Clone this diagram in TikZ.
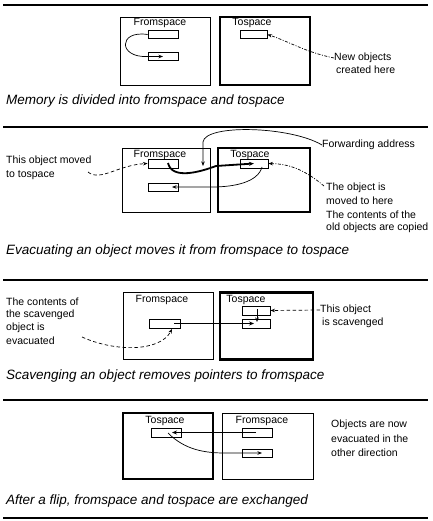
\documentclass[tikz,border=0pt]{standalone}
\usepackage{fontspec}
\setmainfont{Liberation Sans}
\usetikzlibrary{arrows.meta}
\tikzset{
  lbl/.style={font=\fontsize{10.5}{12}\selectfont, inner sep=0pt},
  lblw/.style={lbl, anchor=west},
  capt/.style={font=\fontsize{13.5}{16}\selectfont\itshape, inner sep=0pt, anchor=west},
  obj/.style={draw, line width=0.9pt, minimum width=30pt, minimum height=8pt, inner sep=0pt},
  thinbox/.style={draw, line width=0.9pt, inner sep=0pt},
  thickbox/.style={draw, line width=2.2pt, inner sep=0pt},
  ptr/.style={line width=0.7pt, -{Stealth[length=4.5pt,width=3.5pt]}},
  bptr/.style={line width=1.8pt, -{Stealth[length=5pt,width=4pt]}},
  dptr/.style={line width=0.7pt, dash pattern=on 3.5pt off 2.5pt, -{Stealth[length=4.5pt,width=3.5pt]}},
  ddptr/.style={line width=0.7pt, dash pattern=on 3pt off 1.5pt on 1pt off 1.5pt, -{Stealth[length=4.5pt,width=3.5pt]}},
  rule/.style={line width=#1},
}
\begin{document}
\begin{tikzpicture}[x=1pt,y=-1pt]
\useasboundingbox (0,0) rectangle (432,521);
% rules
\coordinate (r1a) at (3,5);   \coordinate (r1b) at (428,5);
\coordinate (r2a) at (3,127); \coordinate (r2b) at (428,127);
\coordinate (r3a) at (3,280); \coordinate (r3b) at (428,280);
\coordinate (r4a) at (3,400); \coordinate (r4b) at (428,400);
\coordinate (r5a) at (3,518); \coordinate (r5b) at (428,518);
\draw[rule=1.3pt] (r1a) -- (r1b);
\draw[rule=2.6pt] (r2a) -- (r2b);
\draw[rule=2.2pt] (r3a) -- (r3b);
\draw[rule=2.2pt] (r4a) -- (r4b);
\draw[rule=2.6pt] (r5a) -- (r5b);

% ---------- panel 1 ----------
\node[thinbox, minimum width=90pt, minimum height=68pt] (fs1) at (165,51) {};
\node[thickbox, minimum width=90pt, minimum height=68pt] (ts1) at (265,51) {};
\node[lbl] (fs1l) at (160,23) {Fromspace};
\node[lbl] (ts1l) at (252,23) {Tospace};
\node[obj] (a1) at (163,34.5) {};
\node[obj] (b1) at (163,56.5) {};
\node[obj, minimum width=27pt] (t1) at (253.5,34.5) {};
\draw[ptr] (a1.west) .. controls (118,30) and (118,58) .. (b1.west) -- (b1.center);
\node[lblw] (new1) at (334,58) {New objects};
\node[lblw] (new2) at (336,70) {created here};
\draw[ddptr] (new1.west) .. controls (305,52) and (290,42) .. (t1.east);
\node[capt] (cap1) at (6,101) {Memory is divided into fromspace and tospace};

% ---------- panel 2 ----------
\node[thinbox, minimum width=88pt, minimum height=64pt] (fs2) at (166,180) {};
\node[thickbox, minimum width=92pt, minimum height=64pt] (ts2) at (264,180) {};
\node[lbl] (fs2l) at (160,155) {Fromspace};
\node[lbl] (ts2l) at (250,155) {Tospace};
\node[obj, minimum height=9pt] (a2) at (163,163.5) {};
\node[obj] (b2) at (163,187) {};
\node[obj, minimum width=28pt, minimum height=9pt] (t2) at (254,163.5) {};
\coordinate (a2p) at (168,163);
\draw[bptr] (a2p) .. controls (172,180) and (200,172) .. (216,166) -- (t2.center);
\node[lblw] (fwl) at (322,145) {Forwarding address};
\coordinate (fwd) at (203,166);
\draw[ptr] (fwl.west) .. controls (290,126) and (205,124) .. (203,142) -- (fwd);
\coordinate (t2p) at (262,167);
\coordinate (b2p) at (172,187);
\draw[ptr] (t2p) .. controls (258,182) and (235,187) .. (212,187) -- (b2p);
\node[lblw] (mv1) at (6,161) {This object moved};
\node[lblw] (mv2) at (6,175) {to tospace};
\coordinate (mvs) at (88,172);
\draw[dptr] (mvs) .. controls (100,182) and (118,165) .. (a2.west);
\node[lblw] (ob1) at (326,188) {The object is};
\node[lblw] (ob2) at (326,201) {moved to here};
\node[lblw] (ob3) at (326,215) {The contents of the};
\node[lblw] (ob4) at (326,228) {old objects are copied};
\coordinate (obs) at (324,186);
\draw[ddptr] (obs) .. controls (305,170) and (290,164) .. (t2.east);
\node[capt] (cap2) at (6,251) {Evacuating an object moves it from fromspace to tospace};

% ---------- panel 3 ----------
\node[thinbox, minimum width=90pt, minimum height=67pt] (fs3) at (168,326) {};
\node[thickbox, minimum width=93pt, minimum height=67pt] (ts3) at (266.5,326) {};
\node[lbl] (fs3l) at (162,300) {Fromspace};
\node[lbl] (ts3l) at (246,300) {Tospace};
\node[obj, minimum width=31pt, minimum height=9pt] (c3) at (164.5,323.5) {};
\node[obj, minimum width=28pt, minimum height=9pt] (t3a) at (256,310.5) {};
\node[obj, minimum width=28pt, minimum height=9pt] (t3b) at (256,323.5) {};
\coordinate (c3p) at (174,323.5);
\coordinate (t3bp) at (254,323.5);
\draw[bptr] (c3p) -- (t3bp);
\coordinate (t3ap) at (257,309);
\coordinate (t3aq) at (257,322);
\draw[ptr] (t3ap) -- (t3aq);
\node[lblw] (sc1) at (320,310) {This object};
\node[lblw] (sc2) at (322,323) {is scavenged};
\draw[dptr] (sc1.west) -- (t3a.east);
\node[lblw] (ev1) at (6,302) {The contents of};
\node[lblw] (ev2) at (6,315) {the scavenged};
\node[lblw] (ev3) at (6,328) {object is};
\node[lblw] (ev4) at (6,341) {evacuated};
\coordinate (evs) at (82,337);
\coordinate (c3q) at (172,329);
\draw[dptr] (evs) .. controls (115,352) and (160,352) .. (c3q);
\node[capt] (cap3) at (6,376) {Scavenging an object removes pointers to fromspace};

% ---------- panel 4 ----------
\node[thickbox, minimum width=90pt, minimum height=66pt] (ts4) at (168,446) {};
\node[thinbox, minimum width=91pt, minimum height=66pt] (fs4) at (267.5,446) {};
\node[lbl] (ts4l) at (165,421) {Tospace};
\node[lbl] (fs4l) at (262,421) {Fromspace};
\node[obj, minimum height=9pt] (t4) at (166,432.5) {};
\node[obj, minimum height=9pt] (f4a) at (257,432.5) {};
\node[obj] (f4b) at (257,453) {};
\coordinate (f4ap) at (256,432.5);
\coordinate (t4p) at (172,432.5);
\draw[bptr] (f4ap) -- (t4p);
\coordinate (t4q) at (168,433);
\coordinate (f4bp) at (262,453);
\draw[ptr] (t4q) .. controls (185,450) and (205,453) .. (225,453) -- (f4bp);
\node[lblw] (od1) at (331,425) {Objects are now};
\node[lblw] (od2) at (331,439) {evacuated in the};
\node[lblw] (od3) at (331,453) {other direction};
\node[capt] (cap4) at (6,501) {After a flip, fromspace and tospace are exchanged};
\end{tikzpicture}
\end{document}
